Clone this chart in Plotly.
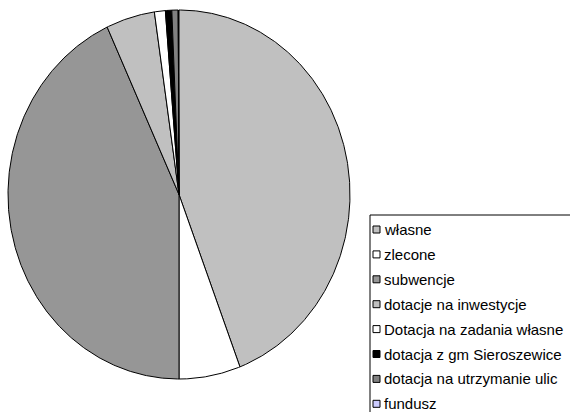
import numpy as np
import plotly.graph_objects as go

# Budget income structure (percent shares)
labels = [
    "własne",
    "zlecone",
    "subwencje",
    "dotacje na inwestycje",
    "Dotacja na zadania własne",
    "dotacja z gm Sieroszewice",
    "dotacja na utrzymanie ulic",
    "fundusz",
]
shares = [44.2, 5.8, 43.1, 4.6, 1.03, 0.6, 0.6, 0.07]
colors = ["#C0C0C0", "#FFFFFF", "#969696", "#C0C0C0",
          "#FFFFFF", "#000000", "#808080", "#CCCCFF"]

W, H = 570, 412
# ellipse-shaped pie: centre and radii in pixels
cx, cy, rx, ry = 179.0, 194.5, 171.0, 184.5

fig = go.Figure()

total = float(sum(shares))
acc = 0.0
for lab, val, col in zip(labels, shares, colors):
    a0 = acc / total * 2 * np.pi
    a1 = (acc + val) / total * 2 * np.pi
    n = max(2, int(np.ceil((a1 - a0) / (2 * np.pi) * 720)) + 1)
    t = np.linspace(a0, a1, n)
    # clockwise from 12 o'clock
    xs = np.concatenate([[0.0], np.sin(t), [0.0]])
    ys = np.concatenate([[0.0], np.cos(t), [0.0]])
    fig.add_trace(go.Scatter(
        x=xs, y=ys, mode="lines", fill="toself", fillcolor=col,
        line=dict(color="#000000", width=1),
        name=lab, showlegend=False, hoverinfo="name",
    ))
    acc += val

# legend box drawn in pixel-derived paper coordinates
def px(x):
    return x / W

def py(y):
    return 1 - y / H

box_left, box_top = 370, 215
item_y0, item_step = 229.5, 24.9
mark_x0, mark_size = 373, 7
text_x = 382

shapes = [dict(type="rect", xref="paper", yref="paper",
               x0=px(box_left), x1=px(W + 10), y0=py(H + 10), y1=py(box_top),
               line=dict(color="#000000", width=1), fillcolor="#FFFFFF", layer="below")]
annotations = []
for i, (lab, col) in enumerate(zip(labels, colors)):
    yc = item_y0 + i * item_step
    shapes.append(dict(type="rect", xref="paper", yref="paper",
                       x0=px(mark_x0), x1=px(mark_x0 + mark_size),
                       y0=py(yc + mark_size / 2), y1=py(yc - mark_size / 2),
                       line=dict(color="#000000", width=1), fillcolor=col))
    annotations.append(dict(xref="paper", yref="paper", x=px(text_x), y=py(yc),
                            xanchor="left", yanchor="middle", showarrow=False,
                            text=lab, align="left",
                            font=dict(family="Liberation Sans, Arial, sans-serif",
                                      size=15, color="#000000")))

fig.update_layout(
    width=W, height=H,
    margin=dict(l=0, r=0, t=0, b=0),
    paper_bgcolor="#FFFFFF", plot_bgcolor="#FFFFFF",
    showlegend=False,
    xaxis=dict(range=[(0 - cx) / rx, (W - cx) / rx], visible=False, fixedrange=True),
    yaxis=dict(range=[(cy - H) / ry, cy / ry], visible=False, fixedrange=True),
    shapes=shapes,
    annotations=annotations,
)

fig.write_html("out.html")
